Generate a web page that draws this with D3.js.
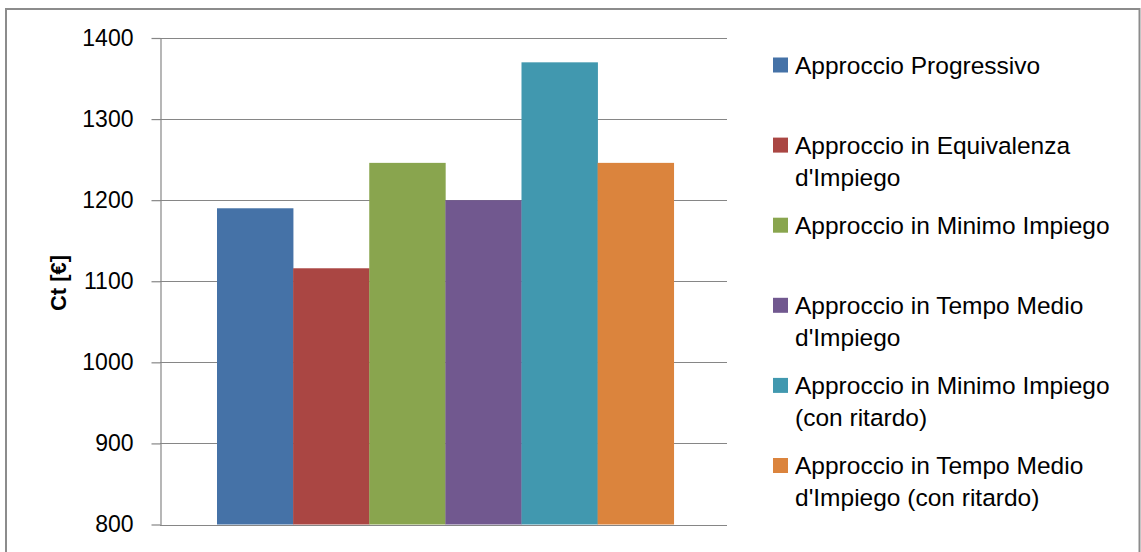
<!DOCTYPE html>
<html>
<head>
<meta charset="utf-8">
<script src="https://cdn.jsdelivr.net/npm/d3@7"></script>
<style>
  html, body { margin: 0; padding: 0; background: #ffffff; }
  svg { display: block; font-family: "Liberation Sans", Arial, sans-serif; }
</style>
</head>
<body>
<svg id="chart" width="1141" height="552"></svg>
<script>
// Total cost per scheduling approach
const seriesNames = [
  "Approccio Progressivo",
  "Approccio in Equivalenza d'Impiego",
  "Approccio in Minimo Impiego",
  "Approccio in Tempo Medio d'Impiego",
  "Approccio in Minimo Impiego (con ritardo)",
  "Approccio in Tempo Medio d'Impiego (con ritardo)"
];
const seriesValues = [1190, 1116, 1246, 1200, 1370, 1246];
const seriesColors = ["#4572A7", "#AA4643", "#89A54E", "#71588F", "#4198AF", "#DB843D"];
const yTicks = [800, 900, 1000, 1100, 1200, 1300, 1400];
const yTitle = "Ct [€]";

const svg = d3.select("#chart");

// outer frame
svg.append("rect")
  .attr("x", 6).attr("y", 9).attr("width", 1133.5).attr("height", 560)
  .attr("fill", "none").attr("stroke", "#8c8c8c").attr("stroke-width", 2);

const plot = { left: 160, right: 727, top: 38, bottom: 524.5 };

const y = d3.scaleLinear().domain([800, 1400]).range([plot.bottom, plot.top]);

// one category, series side by side inside it
const xCat = d3.scaleBand().domain(["c"]).range([plot.left, plot.right])
  .paddingInner(0).paddingOuter(0.1207).align(0.517);
const xSeries = d3.scaleBand().domain(d3.range(seriesNames.length))
  .range([xCat("c"), xCat("c") + xCat.bandwidth()]).padding(0);

// horizontal gridlines
svg.append("g").selectAll("line").data(yTicks).join("line")
  .attr("x1", plot.left).attr("x2", plot.right)
  .attr("y1", d => Math.round(y(d)) + 0.5).attr("y2", d => Math.round(y(d)) + 0.5)
  .attr("stroke", "#868686").attr("stroke-width", 1.2);

// bars
svg.append("g").selectAll("rect").data(seriesValues).join("rect")
  .attr("x", (d, i) => xSeries(i))
  .attr("width", xSeries.bandwidth() + 0.3)
  .attr("y", d => y(d))
  .attr("height", d => y(800) - y(d))
  .attr("fill", (d, i) => seriesColors[i]);

// left axis
const axis = svg.append("g")
  .attr("transform", `translate(${plot.left + 0.5},0)`)
  .call(d3.axisLeft(y).tickValues(yTicks).tickFormat(d3.format("d"))
    .tickSize(9).tickPadding(18).tickSizeOuter(0));
axis.select(".domain").attr("stroke", "#868686").attr("stroke-width", 1.2);
axis.selectAll(".tick line").attr("stroke", "#868686").attr("stroke-width", 1.2);
axis.selectAll(".tick text")
  .attr("font-family", "'Liberation Sans', Arial, sans-serif")
  .attr("font-size", 23).attr("fill", "#000");

// y-axis title
svg.append("text")
  .attr("transform", `translate(66,283) rotate(-90)`)
  .attr("text-anchor", "middle")
  .attr("font-size", 22).attr("font-weight", "bold").attr("fill", "#000")
  .text(yTitle);

// legend
const legY = d3.scalePoint().domain(d3.range(seriesNames.length)).range([73.5, 474]);
const legend = svg.append("g");
const maxLine = 335;
seriesNames.forEach((name, i) => {
  const base = legY(i);
  legend.append("rect")
    .attr("x", 773).attr("y", base - 16).attr("width", 15).attr("height", 15)
    .attr("fill", seriesColors[i]);
  const t = legend.append("text")
    .attr("x", 795).attr("y", base)
    .attr("font-size", 24.5).attr("fill", "#000");
  // word wrap to legend width
  const words = name.split(" ");
  let line = [];
  let tspan = t.append("tspan").attr("x", 795).attr("y", base);
  let lineNo = 0;
  words.forEach(w => {
    line.push(w);
    tspan.text(line.join(" "));
    if (tspan.node().getComputedTextLength() > maxLine && line.length > 1) {
      line.pop();
      tspan.text(line.join(" "));
      line = [w];
      lineNo++;
      tspan = t.append("tspan").attr("x", 795).attr("y", base + lineNo * 32).text(w);
    }
  });
});
</script>
</body>
</html>
